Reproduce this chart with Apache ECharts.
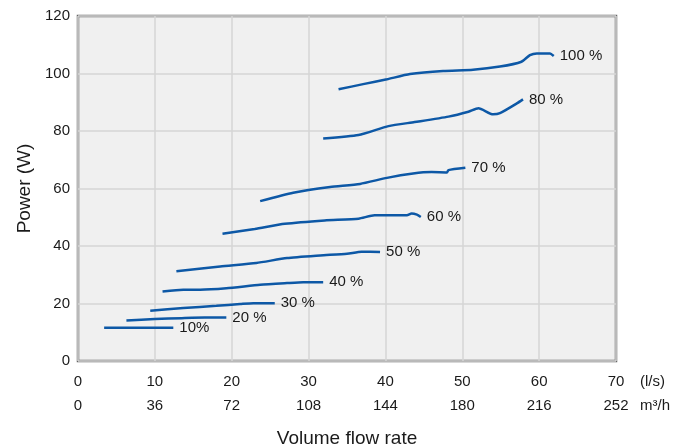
<!DOCTYPE html>
<html>
<head>
<meta charset="utf-8">
<script src="https://cdn.jsdelivr.net/npm/echarts@6/dist/echarts.min.js"></script>
<style>html,body{margin:0;padding:0;background:#fff;}#c{width:688px;height:448px;}</style>
</head>
<body>
<div id="c"></div>
<script>
// Curve labels
const curveLabels = ['100 %', '80 %', '70 %', '60 %', '50 %', '40 %', '30 %', '20 %', '10%'];
// Volume flow rate (l/s) and power (W) for each curve
const flow100 = [33.9, 37.1, 40.2, 43.2, 47.5, 51.4, 54.9, 57.7, 58.8, 59.7, 61.4, 61.9];
const power100 = [94.5, 96.3, 98.0, 99.8, 100.9, 101.3, 102.4, 104.1, 106.4, 107.0, 107.0, 106.1];
const flow80 = [31.9, 36.5, 40.4, 43.8, 48.2, 50.8, 52.1, 54.0, 54.9, 57.1, 57.9];
const power80 = [77.4, 78.6, 81.7, 83.1, 85.0, 86.7, 87.9, 85.8, 86.2, 89.6, 91.0];
const flow70 = [23.7, 28.0, 32.8, 36.7, 40.2, 43.6, 46.0, 48.0, 48.2, 50.4];
const power70 = [55.6, 58.5, 60.5, 61.6, 63.7, 65.2, 65.7, 65.6, 66.4, 67.2];
const flow60 = [18.8, 23.0, 26.9, 32.1, 36.5, 38.6, 42.8, 43.4, 44.1, 44.6];
const power60 = [44.3, 45.9, 47.7, 48.9, 49.5, 50.7, 50.7, 51.3, 50.9, 50.1];
const flow50 = [12.8, 18.5, 23.2, 27.2, 31.5, 35.0, 36.9, 39.3];
const power50 = [31.2, 32.9, 34.1, 35.8, 36.7, 37.3, 38.0, 37.9];
const flow40 = [11.0, 13.7, 15.9, 19.3, 23.7, 27.2, 29.3, 31.9];
const power40 = [24.2, 24.8, 24.8, 25.3, 26.5, 27.1, 27.4, 27.4];
const flow30 = [9.4, 13.7, 18.0, 21.1, 22.8, 25.6];
const power30 = [17.5, 18.4, 19.2, 19.8, 20.1, 20.1];
const flow20 = [6.3, 10.0, 13.5, 16.5, 19.3];
const power20 = [14.1, 14.6, 14.9, 15.1, 15.1];
const flow10 = [3.4, 12.4];
const power10 = [11.6, 11.6];
// Axis ticks
const flowTicksLs = [0, 10, 20, 30, 40, 50, 60, 70];
const flowTicksM3h = [0, 36, 72, 108, 144, 180, 216, 252];
const powerTicks = [0, 20, 40, 60, 80, 100, 120];

const flows = [flow100, flow80, flow70, flow60, flow50, flow40, flow30, flow20, flow10];
const powers = [power100, power80, power70, power60, power50, power40, power30, power20, power10];

const FONT = 'Liberation Sans, Arial, sans-serif';
const series = flows.map((f, i) => ({
  type: 'line',
  name: curveLabels[i],
  data: f.map((x, j) => [x, powers[i][j]]),
  showSymbol: false,
  smooth: 0.2,
  lineStyle: { color: '#0d58a6', width: 2.5 },
  itemStyle: { color: '#0d58a6' },
  xAxisIndex: 0,
  yAxisIndex: 0,
  endLabel: {
    show: true,
    formatter: curveLabels[i],
    color: '#1a1a1a',
    fontSize: 15,
    fontFamily: FONT,
    distance: 6
  },
  animation: false
}));

const chart = echarts.init(document.getElementById('c'));
chart.setOption({
  animation: false,
  grid: {
    left: 78, top: 16, width: 538, height: 345,
    outerBoundsMode: 'none', containLabel: false,
    show: true, backgroundColor: '#f0f0f0', borderColor: '#666666', borderWidth: 2.5
  },
  xAxis: [
    {
      type: 'value', min: flowTicksLs[0], max: flowTicksLs[flowTicksLs.length - 1], interval: 10,
      position: 'bottom',
      axisLine: { show: false }, axisTick: { show: false },
      splitLine: { show: true, lineStyle: { color: '#d6d6d6', width: 1.5 } },
      axisLabel: { color: '#1a1a1a', fontSize: 15, fontFamily: FONT, margin: 13 },
      name: 'Volume flow rate', nameLocation: 'middle', nameGap: 68,
      nameTextStyle: { color: '#1a1a1a', fontSize: 19, fontFamily: FONT }
    },
    {
      type: 'value', min: flowTicksM3h[0], max: flowTicksM3h[flowTicksM3h.length - 1], interval: 36,
      position: 'bottom', offset: 24,
      axisLine: { show: false }, axisTick: { show: false }, splitLine: { show: false },
      axisLabel: { color: '#1a1a1a', fontSize: 15, fontFamily: FONT, margin: 13 }
    }
  ],
  yAxis: {
    type: 'value', min: powerTicks[0], max: powerTicks[powerTicks.length - 1], interval: 20,
    axisLine: { show: false }, axisTick: { show: false },
    splitLine: { show: true, lineStyle: { color: '#d6d6d6', width: 1.5 } },
    axisLabel: { color: '#1a1a1a', fontSize: 15, fontFamily: FONT, margin: 8 },
    name: 'Power (W)', nameLocation: 'middle', nameGap: 41, nameRotate: 90,
    nameTextStyle: { color: '#1a1a1a', fontSize: 19, fontFamily: FONT }
  },
  graphic: [
    { type: 'text', left: 640, top: 374, style: { text: '(l/s)', fill: '#1a1a1a', font: '15px ' + FONT } },
    { type: 'text', left: 640, top: 398, style: { text: 'm³/h', fill: '#1a1a1a', font: '15px ' + FONT } }
  ],
  series: series
});
</script>
</body>
</html>
